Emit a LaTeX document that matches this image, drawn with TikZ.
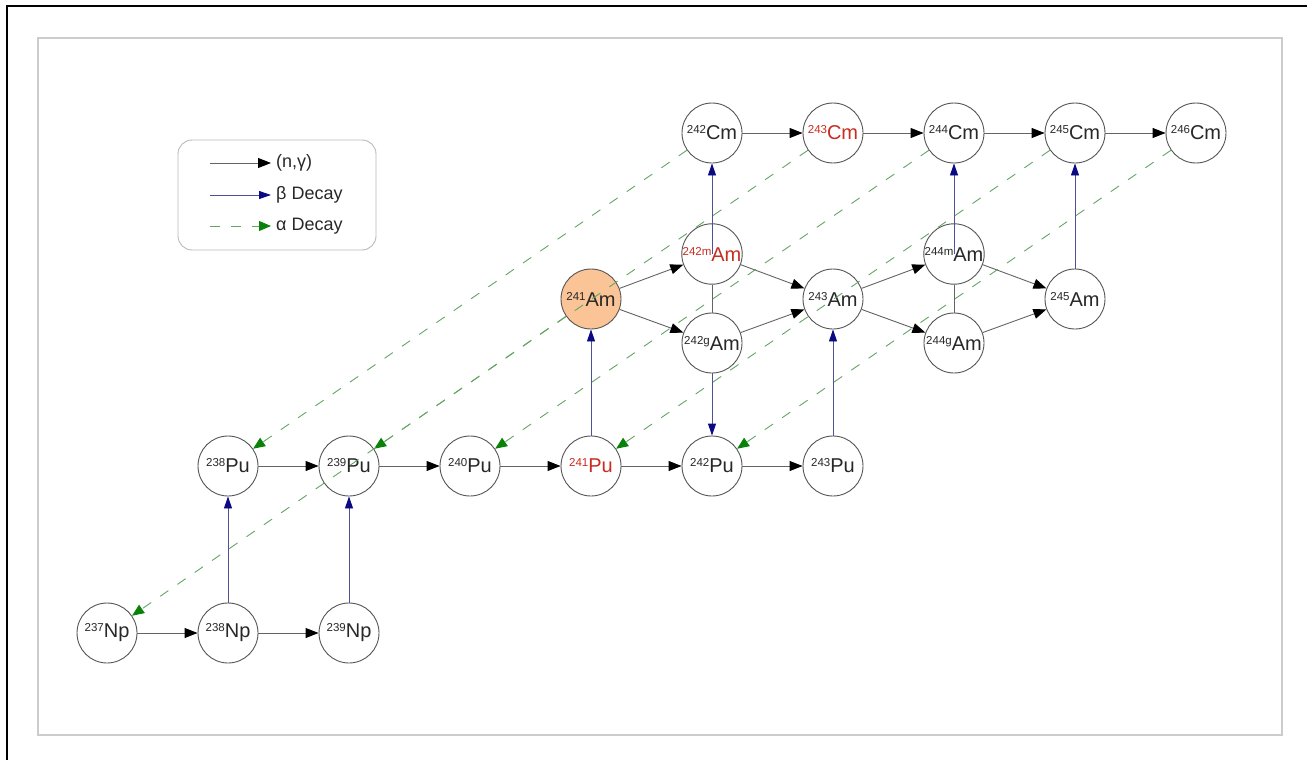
\documentclass[tikz,border=0pt]{standalone}
\usepackage{fontspec}
\setmainfont{Liberation Sans}
\usetikzlibrary{arrows.meta}
\definecolor{nucdraw}{RGB}{85,85,85}
\definecolor{ngline}{RGB}{100,100,100}
\definecolor{bline}{RGB}{80,80,150}
\definecolor{bhead}{RGB}{10,10,130}
\definecolor{aline}{RGB}{100,165,100}
\definecolor{ahead}{RGB}{10,130,10}
\definecolor{redtxt}{RGB}{200,45,30}
\definecolor{amfill}{RGB}{250,196,150}
\definecolor{txt}{RGB}{40,40,40}
\newcommand{\iso}[2]{\raisebox{6pt}{\fontsize{11.5}{11.5}\selectfont #1}#2}
\tikzset{
  nuc/.style={circle,draw=nucdraw,line width=0.9pt,minimum size=60pt,inner sep=0pt,
    fill=white,text=txt,font=\fontsize{20}{20}\selectfont},
  rednuc/.style={nuc,text=redtxt},
  ng/.style={draw=ngline,line width=0.9pt,-{Triangle[length=13pt,width=10pt,color=black]}},
  bd/.style={draw=bline,line width=0.9pt,-{Triangle[length=12pt,width=8pt,color=bhead]}},
  itline/.style={draw=ngline,line width=0.9pt},
  ad/.style={draw=aline,line width=0.9pt,dash pattern=on 10pt off 11pt,
    -{Triangle[length=12pt,width=10pt,color=ahead]}},
  legtext/.style={anchor=west,text=txt,font=\fontsize{18}{18}\selectfont,inner sep=0pt}
}
\begin{document}
\begin{tikzpicture}[x=1pt,y=-1pt]
\useasboundingbox (0,0) rectangle (1307,760);
% frames
\draw[line width=2.5pt,black] (7,760) -- (7,6) -- (1307,6);
\draw[line width=1.5pt,gray!40] (38,38) rectangle (1282,735);
% legend
\node[draw=gray!55,line width=0.9pt,rounded corners=14pt,minimum width=198pt,minimum height=110pt] (legend) at (277,195) {};
\coordinate (l1s) at (210,163); \coordinate (l1e) at (271,163);
\coordinate (l2s) at (210,195); \coordinate (l2e) at (271,195);
\coordinate (l3s) at (210,226); \coordinate (l3e) at (271,226);
\draw[ng] (l1s) -- (l1e);
\draw[bd] (l2s) -- (l2e);
\draw[ad] (l3s) -- (l3e);
\node[legtext] (t1) at (276,163) {(n,γ)};
\node[legtext] (t2) at (276,195) {β Decay};
\node[legtext] (t3) at (276,226) {α Decay};
% nodes
\node[nuc] (np237) at (107,633) {\iso{237}{Np}};
\node[nuc] (np238) at (228,633) {\iso{238}{Np}};
\node[nuc] (np239) at (349,633) {\iso{239}{Np}};
\node[nuc] (pu238) at (228,466) {\iso{238}{Pu}};
\node[nuc] (pu239) at (349,466) {\iso{239}{Pu}};
\node[nuc] (pu240) at (470,466) {\iso{240}{Pu}};
\node[rednuc] (pu241) at (591,466) {\iso{241}{Pu}};
\node[nuc] (pu242) at (712,466) {\iso{242}{Pu}};
\node[nuc] (pu243) at (833,466) {\iso{243}{Pu}};
\node[nuc,fill=amfill] (am241) at (591,299) {\iso{241}{Am}};
\node[rednuc] (am242m) at (712,254) {\iso{242m}{Am}};
\node[nuc] (am242g) at (712,343) {\iso{242g}{Am}};
\node[nuc] (am243) at (833,299) {\iso{243}{Am}};
\node[nuc] (am244m) at (954,254) {\iso{244m}{Am}};
\node[nuc] (am244g) at (954,343) {\iso{244g}{Am}};
\node[nuc] (am245) at (1075,299) {\iso{245}{Am}};
\node[nuc] (cm242) at (712,133) {\iso{242}{Cm}};
\node[rednuc] (cm243) at (833,133) {\iso{243}{Cm}};
\node[nuc] (cm244) at (954,133) {\iso{244}{Cm}};
\node[nuc] (cm245) at (1075,133) {\iso{245}{Cm}};
\node[nuc] (cm246) at (1196,133) {\iso{246}{Cm}};
% (n,gamma)
\draw[ng] (np237) -- (np238);
\draw[ng] (np238) -- (np239);
\draw[ng] (pu238) -- (pu239);
\draw[ng] (pu239) -- (pu240);
\draw[ng] (pu240) -- (pu241);
\draw[ng] (pu241) -- (pu242);
\draw[ng] (pu242) -- (pu243);
\draw[ng] (am241) -- (am242m);
\draw[ng] (am241) -- (am242g);
\draw[ng] (am242m) -- (am243);
\draw[ng] (am242g) -- (am243);
\draw[ng] (am243) -- (am244m);
\draw[ng] (am243) -- (am244g);
\draw[ng] (am244m) -- (am245);
\draw[ng] (am244g) -- (am245);
\draw[ng] (cm242) -- (cm243);
\draw[ng] (cm243) -- (cm244);
\draw[ng] (cm244) -- (cm245);
\draw[ng] (cm245) -- (cm246);
% beta
\draw[bd] (np238) -- (pu238);
\draw[bd] (np239) -- (pu239);
\draw[bd] (pu241) -- (am241);
\draw[bd] (pu243) -- (am243);
\draw[itline] (am242g.north) -- (am242m.south);
\draw[bd] (am242m.center) -- (cm242);
\draw[bd] (am242g) -- (pu242);
\draw[itline] (am244g.north) -- (am244m.south);
\draw[bd] (am244m.center) -- (cm244);
\draw[bd] (am245) -- (cm245);
% alpha
\draw[ad] (cm242) -- (pu238);
\draw[ad] (cm243) -- (pu239);
\draw[ad] (cm244) -- (pu240);
\draw[ad] (cm245) -- (pu241);
\draw[ad] (cm246) -- (pu242);
\draw[ad] (am241) -- (np237);
\end{tikzpicture}
\end{document}
